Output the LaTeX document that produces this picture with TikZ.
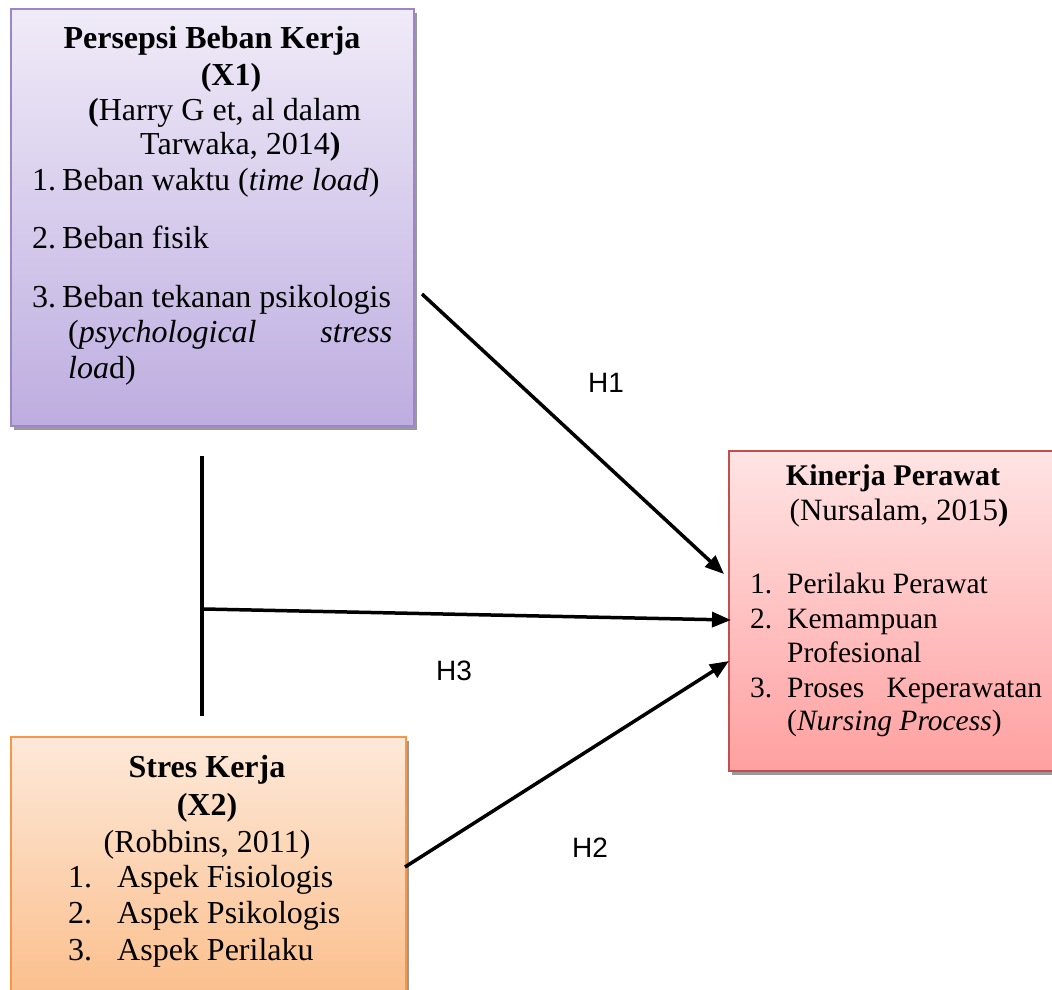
\documentclass[tikz,border=0pt]{standalone}
\usepackage{fontspec}
\setmainfont{Liberation Serif}
\newfontfamily\hlabelfont{Liberation Sans}
\usetikzlibrary{arrows.meta}
\usetikzlibrary{shadows}

\definecolor{bebantop}{HTML}{F0EBF8}
\definecolor{bebanbottom}{HTML}{BDADE0}
\definecolor{bebanline}{HTML}{9C86C4}
\definecolor{kinerjatop}{HTML}{FFE4E4}
\definecolor{kinerjabottom}{HTML}{FFA0A0}
\definecolor{kinerjaline}{HTML}{C0504D}
\definecolor{strestop}{HTML}{FDE9D9}
\definecolor{stresbottom}{HTML}{FBBD89}
\definecolor{stresline}{HTML}{F79646}

\tikzset{
  varbox/.style = {draw, line width = 1.5pt, rectangle, anchor = north west,
    drop shadow = {shadow xshift = 3pt, shadow yshift = -4pt,
      fill = black!40, opacity = 1}},
  boxtext/.style = {inner sep = 0pt, font = \fontsize{32}{36}\selectfont},
  smalltext/.style = {boxtext, font = \fontsize{29.5}{34}\selectfont},
  hlabel/.style = {inner sep = 0pt, anchor = base west,
    font = \hlabelfont\fontsize{28}{32}\selectfont},
  link/.style = {line width = 3.5pt},
  hyparrow/.style = {line width = 3.5pt,
    -{Triangle[length = 19pt, width = 15pt]}}
}

\begin{document}
\begin{tikzpicture}[x = 1pt, y = -1pt]
  \useasboundingbox (0, 0) rectangle (1052, 989);
  \clip (0, 0) rectangle (1052, 989);

  \node[varbox, draw = bebanline, top color = bebantop,
  bottom color = bebanbottom, minimum width = 403pt, minimum height = 417pt]
  (beban) at (10, 8) {};
  \node[varbox, draw = kinerjaline, top color = kinerjatop,
  bottom color = kinerjabottom, minimum width = 340pt, minimum height = 320pt]
  (kinerja) at (728, 450) {};
  \node[varbox, draw = stresline, top color = strestop,
  bottom color = stresbottom, minimum width = 395pt, minimum height = 270pt]
  (stres) at (10, 736) {};

  \node[boxtext, anchor = base] (bebantitle) at (212, 48) {\textbf{Persepsi Beban Kerja}};
  \node[boxtext, anchor = base] (bebanx) at (231, 85) {\textbf{(X1)}};
  \node[boxtext, anchor = base west] (bebanref) at (88, 120) {\textbf{(}Harry G et, al dalam};
  \node[boxtext, anchor = base west] (bebanrefb) at (140, 154) {Tarwaka, 2014\textbf{)}};
  \node[boxtext, anchor = base west] (bebanone) at (32, 190) {1.\hspace{6pt}Beban waktu (\textit{time load})};
  \node[boxtext, anchor = base west] (bebantwo) at (32, 248) {2.\hspace{6pt}Beban fisik};
  \node[boxtext, anchor = base west] (bebanthree) at (32, 307) {3.\hspace{6pt}Beban tekanan psikologis};
  \node[boxtext, anchor = base west] (bebanthreeb) at (68, 342)
  {\makebox[324pt][l]{(\textit{psychological}\hfill\textit{stress}}};
  \node[boxtext, anchor = base west] (bebanthreec) at (68, 378) {\textit{loa}d)};

  \node[smalltext, anchor = base, font = \fontsize{30}{34}\selectfont]
  (kinerjatitle) at (893, 485) {\textbf{Kinerja Perawat}};
  \node[smalltext, anchor = base, font = \fontsize{31}{34}\selectfont]
  (kinerjaref) at (899, 520) {(Nursalam, 2015\textbf{)}};
  \node[smalltext, anchor = base west] (kinerjaonen) at (750, 593) {1.};
  \node[smalltext, anchor = base west] (kinerjaone) at (787, 593) {Perilaku Perawat};
  \node[smalltext, anchor = base west] (kinerjatwon) at (750, 628) {2.};
  \node[smalltext, anchor = base west] (kinerjatwo) at (787, 628) {Kemampuan};
  \node[smalltext, anchor = base west] (kinerjatwob) at (787, 662) {Profesional};
  \node[smalltext, anchor = base west] (kinerjathreen) at (750, 697) {3.};
  \node[smalltext, anchor = base west] (kinerjathree) at (787, 697)
  {\makebox[255pt][l]{Proses\hfill Keperawatan}};
  \node[smalltext, anchor = base west] (kinerjathreeb) at (787, 730) {(\textit{Nursing Process})};

  \node[boxtext, anchor = base] (strestitle) at (207, 777) {\textbf{Stres Kerja}};
  \node[boxtext, anchor = base] (stresx) at (207, 815) {\textbf{(X2)}};
  \node[boxtext, anchor = base] (stresref) at (207, 852) {(Robbins, 2011)};
  \foreach \n/\txt/\yb in {1/Aspek Fisiologis/887, 2/Aspek Psikologis/923,
    3/Aspek Perilaku/960} {
    \node[boxtext, anchor = base west] (stresnum\n) at (68, \yb) {\n.};
    \node[boxtext, anchor = base west] (stresitem\n) at (117, \yb) {\txt};
  }

  \coordinate (vtop) at (202, 456);
  \coordinate (vbot) at (202, 716);
  \coordinate (h3from) at (204, 609);
  \coordinate (h3to) at (731, 620);
  \coordinate (h1from) at (422, 294);
  \coordinate (h1to) at (724, 574);
  \coordinate (h2from) at (405, 867);
  \coordinate (h2to) at (729, 661);

  \draw[link] (vtop) -- (vbot);
  \draw[hyparrow] (h1from) -- (h1to);
  \draw[hyparrow] (h3from) -- (h3to);
  \draw[hyparrow] (h2from) -- (h2to);

  \node[hlabel] (hone) at (588, 392) {H1};
  \node[hlabel] (hthree) at (436, 680) {H3};
  \node[hlabel] (htwo) at (572, 857) {H2};
\end{tikzpicture}
\end{document}
